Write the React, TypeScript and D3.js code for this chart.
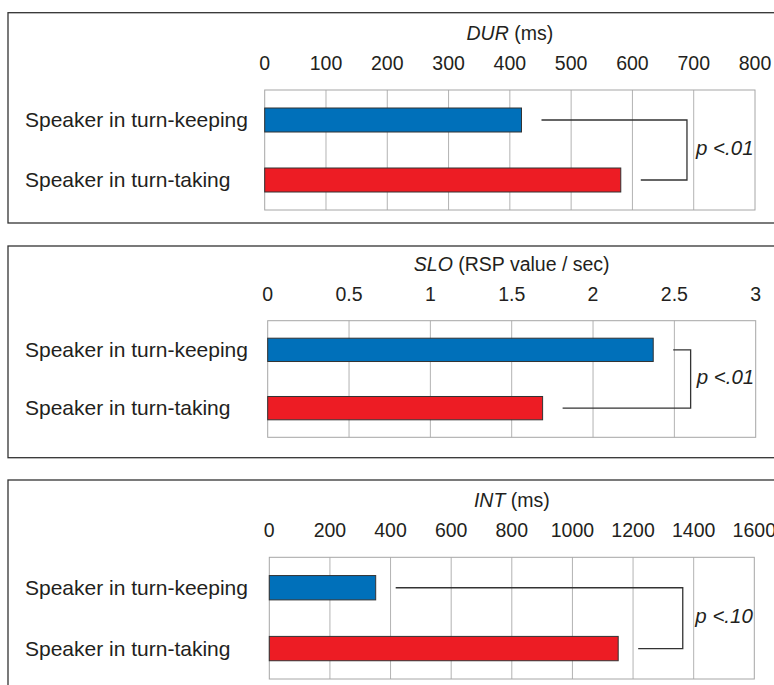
import React from "react";
import * as d3 from "d3";

// categories shared by the three panels
const categories = ["Speaker in turn-keeping", "Speaker in turn-taking"];

// values per measure (turn-keeping, turn-taking)
const durValues = [419, 581];
const sloValues = [2.37, 1.69];
const intValues = [351, 1151];

// axis ticks
const durTicks = [0, 100, 200, 300, 400, 500, 600, 700, 800];
const sloTicks = [0, 0.5, 1, 1.5, 2, 2.5, 3];
const intTicks = [0, 200, 400, 600, 800, 1000, 1200, 1400, 1600];

// titles: [italic part, rest]
const durTitle = ["DUR", " (ms)"];
const sloTitle = ["SLO", " (RSP value / sec)"];
const intTitle = ["INT", " (ms)"];

// significance label and bracket x (in data units)
const durSig = ["p <.01", 689];
const sloSig = ["p <.01", 2.6];
const intSig = ["p <.10", 1364];

const colors = ["#0070ba", "#ed1c24"];
const font = "'Liberation Sans', Arial, Helvetica, sans-serif";
const ink = "#231f20";

const panels = [
  { title: durTitle, ticks: durTicks, values: durValues, sig: durSig,
    boxTop: 12.7, boxBottom: 223, plotTop: 90, plotH: 120, x0: 264.7, x1: 755 },
  { title: sloTitle, ticks: sloTicks, values: sloValues, sig: sloSig,
    boxTop: 246, boxBottom: 457.7, plotTop: 320.7, plotH: 116.6, x0: 267.7, x1: 755.7 },
  { title: intTitle, ticks: intTicks, values: intValues, sig: intSig,
    boxTop: 480, boxBottom: 760, plotTop: 557.3, plotH: 121.7, x0: 269.3, x1: 754.3 },
];

function Panel({ p }: { p: any }) {
  const x = d3.scaleLinear()
    .domain([p.ticks[0], p.ticks[p.ticks.length - 1]])
    .range([p.x0, p.x1]);
  const y = d3.scaleBand()
    .domain(categories)
    .range([p.plotTop, p.plotTop + p.plotH])
    .paddingInner(0.6)
    .paddingOuter(0.3);
  const mid = (c: string) => (y(c) as number) + y.bandwidth() / 2;

  const bx = x(p.sig[1]);
  const yTop = mid(categories[0]);
  const yBot = mid(categories[1]);
  const gap = 20;

  return (
    <g>
      <rect x={8} y={p.boxTop} width={800} height={p.boxBottom - p.boxTop}
        fill="none" stroke="#333" strokeWidth={1.3} />
      <text x={(p.x0 + p.x1) / 2} y={p.plotTop - 50} textAnchor="middle"
        fontFamily={font} fontSize={19.5} fill={ink}>
        <tspan fontStyle="italic">{p.title[0]}</tspan>
        <tspan>{p.title[1]}</tspan>
      </text>
      {p.ticks.map((t: number) => (
        <text key={"t" + t} x={x(t)} y={p.plotTop - 20} textAnchor="middle"
          fontFamily={font} fontSize={19.5} fill={ink}>{t}</text>
      ))}
      {p.ticks.slice(1, -1).map((t: number) => (
        <line key={"g" + t} x1={x(t)} x2={x(t)} y1={p.plotTop} y2={p.plotTop + p.plotH}
          stroke="#b3b3b3" strokeWidth={1} />
      ))}
      <rect x={p.x0} y={p.plotTop} width={p.x1 - p.x0} height={p.plotH}
        fill="none" stroke="#a6a6a6" strokeWidth={1} />
      {categories.map((c, i) => (
        <g key={c}>
          <rect x={x(0)} y={y(c)} width={x(p.values[i]) - x(0)} height={y.bandwidth()}
            fill={colors[i]} stroke="#333" strokeWidth={1} />
          <text x={25} y={mid(c) + 7} fontFamily={font} fontSize={21} fill={ink}>{c}</text>
        </g>
      ))}
      <path
        d={`M${x(p.values[0]) + gap},${yTop}H${bx}V${yBot}H${x(p.values[1]) + gap}`}
        fill="none" stroke="#333" strokeWidth={1.3} />
      <text x={p.x1 - 59} y={(yTop + yBot) / 2 + 5} fontFamily={font} fontSize={20.5}
        fontStyle="italic" fill={ink}>{p.sig[0]}</text>
    </g>
  );
}

export default function App() {
  return (
    <svg width={774} height={685} style={{ position: "absolute", left: 0, top: 0, background: "#fff" }}>
      {panels.map((p, i) => <Panel key={i} p={p} />)}
    </svg>
  );
}
